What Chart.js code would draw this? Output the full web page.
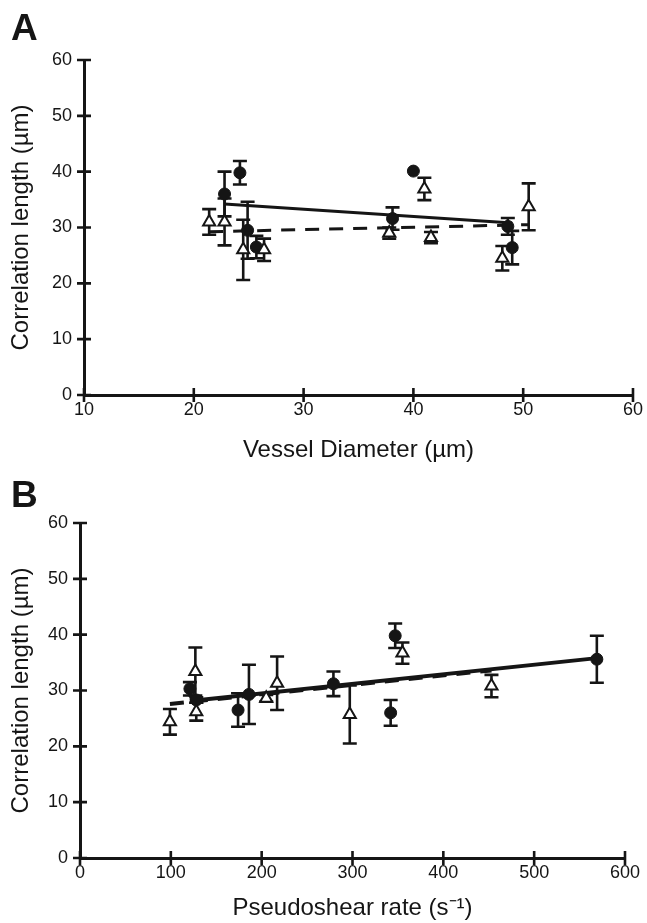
<!DOCTYPE html>
<html>
<head>
<meta charset="utf-8">
<script src="https://cdn.jsdelivr.net/npm/chart.js@4.4.1/dist/chart.umd.min.js"></script>
<style>
  html, body { margin: 0; padding: 0; background: #fff; }
  body { width: 647px; height: 923px; position: relative; overflow: hidden; font-family: "Liberation Sans", Arial, sans-serif; }
  .panel { position: absolute; left: 0; width: 647px; }
  #boxA { top: 0; height: 470px; }
  #boxB { top: 470px; height: 453px; }
  .tag { position: absolute; left: 11px; font-weight: bold; font-size: 37px; line-height: 1; color: #151515; }
</style>
</head>
<body>
<div class="panel" id="boxA"><canvas id="chartA"></canvas></div>
<div class="panel" id="boxB"><canvas id="chartB"></canvas></div>
<div class="tag" style="top:9px">A</div>
<div class="tag" style="top:476px">B</div>

<script>
// === data ===
// Panel A: vessel diameter (µm) vs correlation length (µm)
const aCircX   = [22.8, 24.2, 24.9, 25.7, 38.1, 40.0, 48.6, 49.0];
const aCircY   = [36.0, 39.8, 29.5, 26.5, 31.6, 40.1, 30.2, 26.4];
const aCircErr = [4.0, 2.1, 5.1, 2.0, 2.0, 0, 1.5, 3.0];
const aTriX    = [21.4, 22.8, 24.5, 26.4, 37.8, 41.0, 41.6, 48.1, 50.5];
const aTriY    = [31.0, 31.0, 26.0, 26.0, 29.0, 36.9, 28.2, 24.5, 33.7];
const aTriErr  = [2.3, 4.2, 5.4, 2.0, 1.0, 2.0, 1.0, 2.2, 4.2];
const aSolidX  = [22.8, 49.0];
const aSolidY  = [34.2, 30.8];
const aDashX   = [21.4, 50.5];
const aDashY   = [29.25, 30.5];
const aXTicks  = [10, 20, 30, 40, 50, 60];

// Panel B: pseudoshear rate (s-1) vs correlation length (µm)
const bCircX   = [121, 128, 174, 186, 279, 342, 347, 569];
const bCircY   = [30.3, 28.3, 26.5, 29.3, 31.2, 26.0, 39.8, 35.6];
const bCircErr = [1.2, 0.5, 3.0, 5.3, 2.2, 2.3, 2.2, 4.2];
const bTriX    = [99, 127, 128, 205, 217, 297, 355, 453];
const bTriY    = [24.4, 33.4, 26.2, 28.6, 31.3, 25.7, 36.7, 30.8];
const bTriErr  = [2.3, 4.3, 1.6, 0.6, 4.8, 5.2, 1.9, 2.0];
const bSolidX  = [121, 569];
const bSolidY  = [28.1, 35.8];
const bDashX   = [99, 453];
const bDashY   = [27.6, 33.6];
const bXTicks  = [0, 100, 200, 300, 400, 500, 600];

const yTicks = [0, 10, 20, 30, 40, 50, 60];
const INK = '#151515';
const FONT = "'Liberation Sans', Arial, sans-serif";

function pts(xs, ys) { return xs.map((x, i) => ({ x, y: ys[i] })); }

// error bars, drawn under the markers
const errorBars = {
  id: 'errorBars',
  beforeDatasetsDraw(chart) {
    const { ctx, scales: { x, y } } = chart;
    ctx.save();
    ctx.strokeStyle = INK;
    ctx.lineWidth = 2.6;
    chart.data.datasets.forEach(ds => {
      if (!ds.err) return;
      ds.data.forEach((p, i) => {
        const e = ds.err[i];
        if (!e) return;
        const px = x.getPixelForValue(p.x);
        const top = y.getPixelForValue(p.y + e);
        const bot = y.getPixelForValue(p.y - e);
        ctx.beginPath();
        ctx.moveTo(px, top); ctx.lineTo(px, bot);
        ctx.moveTo(px - 7, top); ctx.lineTo(px + 7, top);
        ctx.moveTo(px - 7, bot); ctx.lineTo(px + 7, bot);
        ctx.stroke();
      });
    });
    ctx.restore();
  }
};

// tick marks that cross the axis line
const crossTicks = {
  id: 'crossTicks',
  afterDraw(chart) {
    const { ctx, scales: { x, y }, chartArea: a } = chart;
    ctx.save();
    ctx.strokeStyle = INK;
    ctx.lineWidth = 2.6;
    ctx.beginPath();
    x.ticks.forEach(t => {
      const px = x.getPixelForValue(t.value);
      ctx.moveTo(px, a.bottom - 7); ctx.lineTo(px, a.bottom + 7);
    });
    y.ticks.forEach(t => {
      const py = y.getPixelForValue(t.value);
      ctx.moveTo(a.left - 7, py); ctx.lineTo(a.left + 7, py);
    });
    ctx.stroke();
    ctx.restore();
  }
};

function makeChart(id, cfg) {
  return new Chart(document.getElementById(id), {
    type: 'scatter',
    data: {
      datasets: [
        { data: pts(cfg.triX, cfg.triY), err: cfg.triErr, pointStyle: 'triangle', pointRadius: 7,
          backgroundColor: '#fff', borderColor: INK, borderWidth: 2 },
        { data: pts(cfg.circX, cfg.circY), err: cfg.circErr, pointStyle: 'circle', pointRadius: 6,
          backgroundColor: INK, borderColor: INK, borderWidth: 1 },
        { type: 'line', data: pts(cfg.solidX, cfg.solidY), borderColor: INK, borderWidth: cfg.lw,
          pointRadius: 0, fill: false },
        { type: 'line', data: pts(cfg.dashX, cfg.dashY), borderColor: INK, borderWidth: cfg.lw,
          borderDash: [14, 10], pointRadius: 0, fill: false }
      ]
    },
    options: {
      responsive: true,
      maintainAspectRatio: false,
      animation: false,
      events: [],
      layout: { padding: { top: cfg.padTop, right: cfg.padRight, left: 0, bottom: 0 } },
      plugins: { legend: { display: false }, tooltip: { enabled: false } },
      scales: {
        x: {
          type: 'linear', min: cfg.xMin, max: cfg.xMax,
          afterBuildTicks: s => { s.ticks = cfg.xTicks.map(v => ({ value: v })); },
          afterFit: s => { s.height = cfg.xHeight; },
          grid: { display: false, drawTicks: false },
          border: { display: true, color: INK, width: 3 },
          ticks: { color: INK, padding: 4, font: { family: FONT, size: 18 } },
          title: { display: true, text: cfg.xTitle, color: INK, padding: { top: 0, bottom: cfg.xTitlePad },
                   font: { family: FONT, size: 24 } }
        },
        y: {
          type: 'linear', min: 0, max: 60,
          afterBuildTicks: s => { s.ticks = yTicks.map(v => ({ value: v })); },
          afterFit: s => { s.width = cfg.yWidth; },
          grid: { display: false, drawTicks: false },
          border: { display: true, color: INK, width: 3 },
          ticks: { color: INK, padding: 12, font: { family: FONT, size: 18 } },
          title: { display: true, text: 'Correlation length (µm)', color: INK, padding: { top: 7, bottom: 0 },
                   font: { family: FONT, size: 24 } }
        }
      }
    },
    plugins: [errorBars, crossTicks]
  });
}

makeChart('chartA', {
  circX: aCircX, circY: aCircY, circErr: aCircErr,
  triX: aTriX, triY: aTriY, triErr: aTriErr,
  solidX: aSolidX, solidY: aSolidY, dashX: aDashX, dashY: aDashY,
  xMin: 10, xMax: 60, xTicks: aXTicks, xTitle: 'Vessel Diameter (µm)',
  padTop: 60, padRight: 11, xHeight: 75, yWidth: 84, xTitlePad: 5, lw: 3
});

makeChart('chartB', {
  circX: bCircX, circY: bCircY, circErr: bCircErr,
  triX: bTriX, triY: bTriY, triErr: bTriErr,
  solidX: bSolidX, solidY: bSolidY, dashX: bDashX, dashY: bDashY,
  xMin: 0, xMax: 600, xTicks: bXTicks, xTitle: 'Pseudoshear rate (s⁻¹)',
  padTop: 53, padRight: 22, xHeight: 65, yWidth: 80, xTitlePad: 0, lw: 4
});
</script>
</body>
</html>
